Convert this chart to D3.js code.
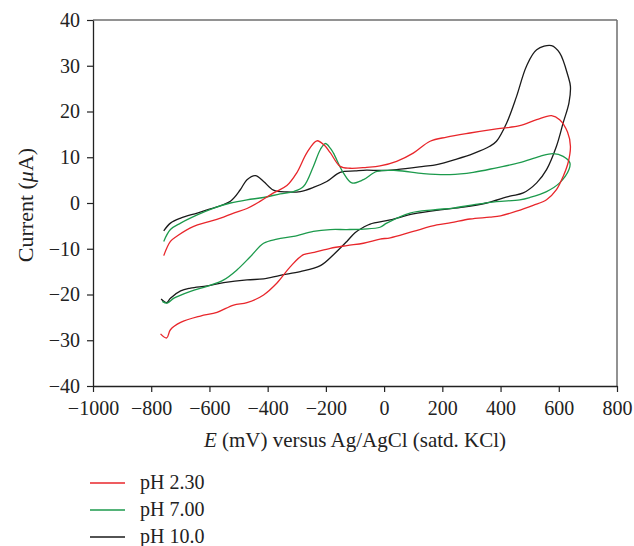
<!doctype html>
<meta charset="utf-8">
<script src="https://cdn.jsdelivr.net/npm/d3@7"></script>
<style>
  body { margin: 0; background: #fff; }
  svg { font-family: "Liberation Serif", "DejaVu Serif", serif; }
</style>
<div id="chart"></div>
<script>

  // potential (mV) and current (uA) traced along each loop
  var redE = [-757,-734,-711,-654,-608,-562,-517,-471,-425,-380,-334,-300,-265,-231,-205,-185,-151,-117,-60,-14,43,100,158,215,295,386,466,524,575,603,630,640,632,615,592,558,512,455,400,363,295,230,181,100,21,-14,-71,-128,-185,-240,-277,-322,-368,-414,-471,-517,-574,-631,-699,-734,-747,-768];
  var redI = [-11.5,-8.4,-7.2,-5.1,-4.2,-3.3,-2.2,-1.2,0.4,2.2,3.8,6.6,11.0,13.6,12.6,11.0,8.0,7.6,7.8,8.1,9.1,10.9,13.5,14.4,15.3,16.2,16.9,18.2,19.1,18.2,15.5,12.4,8.8,5.8,2.9,0.7,-0.5,-1.8,-2.8,-3.1,-3.5,-4.3,-4.8,-6.2,-7.6,-7.9,-8.8,-9.3,-9.9,-10.8,-11.3,-13.9,-17.5,-20.1,-21.8,-22.3,-23.9,-24.7,-26.1,-27.7,-29.5,-28.6];

  var greenE = [-757,-734,-699,-642,-585,-528,-471,-414,-357,-311,-277,-243,-219,-202,-185,-174,-140,-111,-71,-25,43,135,226,306,386,466,535,581,615,638,635,603,558,500,466,386,306,238,169,89,9,-14,-71,-128,-185,-243,-311,-368,-414,-459,-505,-551,-608,-665,-722,-745,-762];
  var greenI = [-8.4,-5.8,-4.4,-2.6,-1.1,0.0,0.7,1.2,2.0,2.5,3.6,8.0,11.7,13.0,12.0,10.9,6.6,4.4,5.1,6.9,7.1,6.4,6.2,6.7,7.7,8.8,10.2,10.8,10.2,8.8,7.3,4.4,2.5,1.2,0.7,0.3,-0.4,-1.1,-1.5,-2.2,-4.4,-5.3,-5.7,-5.8,-5.8,-6.2,-7.3,-7.9,-8.8,-11.7,-14.6,-16.8,-18.2,-19.3,-20.8,-21.9,-21.5];

  var blackE = [-757,-734,-699,-642,-597,-528,-494,-471,-442,-414,-380,-334,-288,-243,-197,-151,-100,-60,-14,43,135,181,249,306,363,386,421,455,489,524,575,603,632,640,635,615,592,558,524,478,432,352,272,192,100,21,-48,-71,-100,-128,-174,-219,-288,-357,-414,-471,-551,-608,-665,-699,-734,-747,-766];
  var blackI = [-6.1,-4.4,-3.3,-2.2,-1.3,0.4,2.9,5.1,6.0,4.7,2.8,2.4,2.5,3.4,4.7,6.7,7.0,7.2,7.1,7.3,8.0,8.4,9.6,10.8,12.4,13.5,17.5,23.3,29.9,33.5,34.4,32.8,27.7,25.5,21.9,17.5,12.4,7.3,4.4,2.2,1.5,0.0,-0.9,-1.5,-2.4,-3.7,-4.6,-5.3,-6.5,-8.4,-11.3,-13.7,-15.0,-15.8,-16.6,-16.8,-17.4,-18.1,-18.6,-19.2,-20.8,-21.8,-21.0];

  var seriesNames = ["pH 2.30", "pH 7.00", "pH 10.0"];
  var seriesColors = ["#e8262b", "#1c9a4c", "#1a1a1a"];
  var xTicks = [-1000,-800,-600,-400,-200,0,200,400,600,800];
  var yTicks = [-40,-30,-20,-10,0,10,20,30,40];

  var width = 634, height = 546;
  var plotLeft = 93, plotRight = 617, plotTop = 20, plotBottom = 386;

  var svg = d3.select("#chart").append("svg")
    .attr("width", width)
    .attr("height", height);

  var x = d3.scaleLinear().domain([-1000, 800]).range([plotLeft, plotRight]);
  var y = d3.scaleLinear().domain([-40, 40]).range([plotBottom, plotTop]);

  // top and right frame lines (grey)
  svg.append("line")
    .attr("x1", plotLeft).attr("x2", plotRight).attr("y1", plotTop).attr("y2", plotTop)
    .attr("stroke", "#6e6e6e").attr("stroke-width", 1.5);
  svg.append("line")
    .attr("x1", plotRight).attr("x2", plotRight).attr("y1", plotTop).attr("y2", plotBottom)
    .attr("stroke", "#6e6e6e").attr("stroke-width", 1.5);

  var fmt = d3.format("d");

  svg.append("g")
    .attr("transform", "translate(0," + plotBottom + ")")
    .call(d3.axisBottom(x).tickValues(xTicks).tickFormat(fmt)
      .tickSize(6).tickSizeOuter(0).tickPadding(9));

  svg.append("g")
    .attr("transform", "translate(" + plotLeft + ",0)")
    .call(d3.axisLeft(y).tickValues(yTicks).tickFormat(fmt)
      .tickSize(6).tickSizeOuter(0).tickPadding(7));

  svg.selectAll(".domain").attr("stroke", "#222").attr("stroke-width", 1.3);
  svg.selectAll(".tick line").attr("stroke", "#222").attr("stroke-width", 1.2);
  svg.selectAll(".tick text")
    .attr("fill", "#222")
    .style("font-family", "Liberation Serif")
    .style("font-size", "20px");

  // curves
  var line = d3.line()
    .x(function(d) { return x(d[0]); })
    .y(function(d) { return y(d[1]); })
    .curve(d3.curveCatmullRom.alpha(0.5));

  var loops = [d3.zip(redE, redI), d3.zip(greenE, greenI), d3.zip(blackE, blackI)];

  // draw black first, then green, red on top
  [2, 1, 0].forEach(function(i) {
    svg.append("path")
      .datum(loops[i])
      .attr("d", line)
      .attr("fill", "none")
      .attr("stroke", seriesColors[i])
      .attr("stroke-width", 1.3)
      .attr("stroke-linejoin", "round");
  });

  // axis titles
  var xt = svg.append("text")
    .attr("x", (plotLeft + plotRight) / 2)
    .attr("y", 447)
    .attr("text-anchor", "middle")
    .attr("fill", "#222")
    .style("font-size", "21px");
  xt.append("tspan").attr("font-style", "italic").text("E");
  xt.append("tspan").text(" (mV) versus Ag/AgCl (satd. KCl)");

  var yt = svg.append("text")
    .attr("transform", "translate(33,205) rotate(-90)")
    .attr("text-anchor", "middle")
    .attr("fill", "#222")
    .style("font-size", "22px");
  yt.append("tspan").text("Current (");
  yt.append("tspan").attr("font-style", "italic").text("μ");
  yt.append("tspan").text("A)");

  // legend
  var legendY = [483, 510, 537];
  var legend = svg.selectAll(".legend")
    .data(seriesNames)
    .enter().append("g")
    .attr("class", "legend")
    .attr("transform", function(d, i) { return "translate(90," + legendY[i] + ")"; });

  legend.append("line")
    .attr("x1", 0).attr("x2", 35)
    .attr("stroke", function(d, i) { return seriesColors[i]; })
    .attr("stroke-width", 1.3);

  legend.append("text")
    .attr("x", 50)
    .attr("y", 6)
    .attr("fill", "#222")
    .style("font-size", "20px")
    .text(function(d) { return d; });

</script>
